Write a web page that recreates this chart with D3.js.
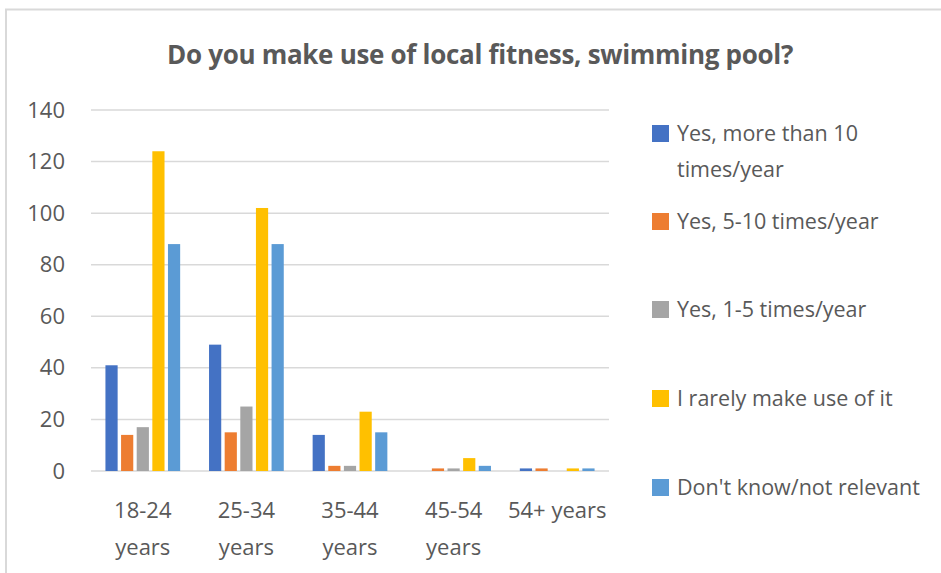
<!DOCTYPE html>
<html>
<head>
<meta charset="utf-8">
<script src="https://cdn.jsdelivr.net/npm/d3@7"></script>
<style>
  html, body { margin: 0; padding: 0; background: #fff; }
  svg { display: block; font-family: "Open Sans", "Noto Sans", sans-serif; }
</style>
</head>
<body>
<svg id="chart" width="941" height="573"></svg>
<script>
// Survey answers per age group
const categories = ["18-24 years", "25-34 years", "35-44 years", "45-54 years", "54+ years"];
const seriesNames = [
  "Yes, more than 10 times/year",
  "Yes, 5-10 times/year",
  "Yes, 1-5 times/year",
  "I rarely make use of it",
  "Don't know/not relevant"
];
const seriesColors = ["#4472c4", "#ed7d31", "#a5a5a5", "#ffc000", "#5b9bd5"];
const moreThan10 = [41, 49, 14, 0, 1];
const fiveTo10 = [14, 15, 2, 1, 1];
const oneTo5 = [17, 25, 2, 1, 0];
const rarely = [124, 102, 23, 5, 1];
const dontKnow = [88, 88, 15, 2, 1];
const yTicks = [0, 20, 40, 60, 80, 100, 120, 140];

const seriesValues = [moreThan10, fiveTo10, oneTo5, rarely, dontKnow];
const textColor = "#595959";
const fontStack = "'Open Sans', 'Noto Sans', sans-serif";

const svg = d3.select("#chart");

// outer chart frame
svg.append("rect")
  .attr("x", 6).attr("y", 9.5)
  .attr("width", 960).attr("height", 600)
  .attr("fill", "#fff")
  .attr("stroke", "#d9d9d9").attr("stroke-width", 2);

svg.append("text")
  .attr("x", 480).attr("y", 64)
  .attr("text-anchor", "middle")
  .attr("fill", textColor)
  .attr("font-size", 26).attr("font-weight", 700)
  .attr("letter-spacing", -0.3)
  .text("Do you make use of local fitness, swimming pool?");

const plot = { left: 91, right: 609, top: 110, bottom: 471 };

const x0 = d3.scaleBand().domain(categories).range([plot.left, plot.right]).paddingInner(0).paddingOuter(0);
const x1 = d3.scaleBand().domain(d3.range(seriesNames.length)).range([11, x0.bandwidth() - 11]).padding(0.22);
const y = d3.scaleLinear().domain([0, 140]).range([plot.bottom, plot.top]);

// gridlines
svg.append("g")
  .selectAll("line")
  .data(yTicks)
  .join("line")
  .attr("x1", plot.left).attr("x2", plot.right)
  .attr("y1", d => y(d)).attr("y2", d => y(d))
  .attr("stroke", "#d9d9d9").attr("stroke-width", 1.5);

// y axis labels
const yAxis = d3.axisLeft(y).tickValues(yTicks).tickSize(0).tickPadding(0);
const gy = svg.append("g").attr("transform", `translate(65,0)`).call(yAxis);
gy.select(".domain").remove();
gy.selectAll("text")
  .attr("fill", textColor)
  .attr("font-size", 22)
  .attr("font-family", fontStack);

// bars
const groups = svg.append("g")
  .selectAll("g")
  .data(categories)
  .join("g")
  .attr("transform", d => `translate(${x0(d)},0)`);

groups.selectAll("rect")
  .data((c, ci) => seriesValues.map((vals, si) => ({ si, v: vals[ci] })))
  .join("rect")
  .attr("x", d => x1(d.si))
  .attr("width", x1.bandwidth())
  .attr("y", d => y(d.v))
  .attr("height", d => y(0) - y(d.v))
  .attr("fill", d => seriesColors[d.si]);

// x axis labels, wrapped to fit the category width
const xLabelLines = {
  "18-24 years": ["18-24", "years"],
  "25-34 years": ["25-34", "years"],
  "35-44 years": ["35-44", "years"],
  "45-54 years": ["45-54", "years"],
  "54+ years": ["54+ years"]
};
const xAxis = d3.axisBottom(x0).tickSize(0).tickFormat("");
const gx = svg.append("g").attr("transform", `translate(0,${plot.bottom})`).call(xAxis);
gx.select(".domain").remove();
gx.selectAll(".tick").each(function(d) {
  const t = d3.select(this).append("text")
    .attr("fill", textColor)
    .attr("font-size", 22)
    .attr("text-anchor", "middle")
    .attr("font-family", fontStack);
  xLabelLines[d].forEach((line, i) => {
    t.append("tspan").attr("x", 0).attr("y", 47 + i * 37).text(line);
  });
});

// legend
const legendItems = [
  { lines: ["Yes, more than 10", "times/year"], y: 133 },
  { lines: ["Yes, 5-10 times/year"], y: 221 },
  { lines: ["Yes, 1-5 times/year"], y: 309 },
  { lines: ["I rarely make use of it"], y: 398 },
  { lines: ["Don't know/not relevant"], y: 487 }
];
const lg = svg.append("g")
  .selectAll("g")
  .data(legendItems)
  .join("g");
lg.append("rect")
  .attr("x", 652).attr("y", d => d.y - 8)
  .attr("width", 17).attr("height", 17)
  .attr("fill", (d, i) => seriesColors[i]);
lg.append("text")
  .attr("fill", textColor)
  .attr("font-size", 21.5)
  .each(function(d) {
    d3.select(this).selectAll("tspan")
      .data(d.lines)
      .join("tspan")
      .attr("x", 677)
      .attr("y", (l, i) => d.y + 8 + i * 36)
      .text(l => l);
  });
</script>
</body>
</html>
